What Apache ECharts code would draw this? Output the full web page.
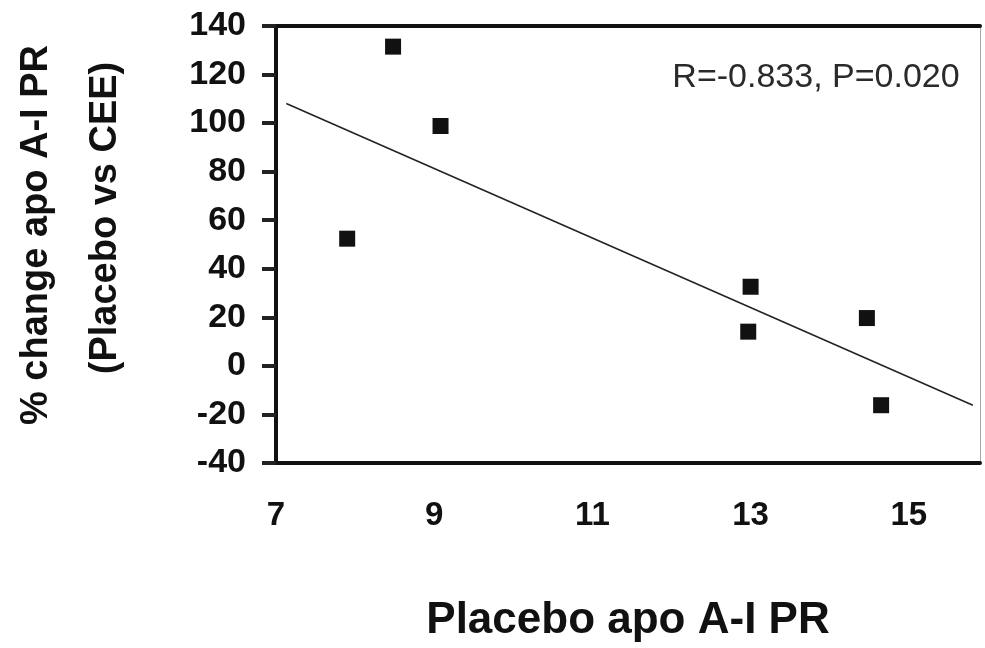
<!DOCTYPE html>
<html>
<head>
<meta charset="utf-8">
<script src="https://cdn.jsdelivr.net/npm/echarts@6/dist/echarts.min.js"></script>
<style>
	html, body { margin: 0; padding: 0; background: #fff; }
	#main { width: 985px; height: 648px; }
</style>
</head>
<body>
<div id="main"></div>
<script>
// scatter points
var placeboPR = [7.9, 8.48, 9.08, 13.0, 12.97, 14.47, 14.65];
var pctChange = [52.4, 131.5, 98.8, 32.6, 14.1, 19.7, -16.2];

// regression line end points
var trendX = [7.13, 15.81];
var trendY = [108.1, -16.2];

var xTicks = [7, 9, 11, 13, 15];
var statText = 'R=-0.833, P=0.020';

function createChart()
{
	var dom = document.getElementById("main");
	var myChart = echarts.init(dom);
	var option = null;

	var points = [];
	for (var i = 0; i < placeboPR.length; i++) {
		points.push([placeboPR[i], pctChange[i]]);
	}
	var line = [];
	for (var j = 0; j < trendX.length; j++) {
		line.push([trendX[j], trendY[j]]);
	}

	var font = "'Liberation Sans', Arial, sans-serif";

	option = {
		backgroundColor: '#fff',
		animation: false,
		title: {
			text: statText,
			left: 811,
			top: 56,
			textAlign: 'center',
			textStyle: {
				fontFamily: font,
				fontWeight: 'normal',
				fontSize: 34,
				color: '#2a2a2a'
			}
		},
		grid: {
			left: 276,
			top: 26,
			right: 5,
			bottom: 176,
			containLabel: false
		},
		xAxis: [
			{
				type: 'value',
				min: 7,
				max: 15.9,
				interval: 1,
				position: 'bottom',
				splitLine: { show: false },
				axisTick: { show: false },
				axisLine: { onZero: false, lineStyle: { color: '#111', width: 4 } },
				axisLabel: {
					margin: 36,
					showMaxLabel: false,
					fontFamily: font,
					fontWeight: 'bold',
					fontSize: 33,
					color: '#111',
					formatter: function (v) {
						return xTicks.indexOf(v) >= 0 ? String(v) : '';
					}
				},
				name: 'Placebo apo A-I PR',
				nameLocation: 'middle',
				nameGap: 136,
				nameTextStyle: {
					fontFamily: font,
					fontWeight: 'bold',
					fontSize: 44,
					color: '#111'
				}
			},
			{
				type: 'value',
				min: 7,
				max: 15.9,
				position: 'top',
				splitLine: { show: false },
				axisTick: { show: false },
				axisLabel: { show: false },
				axisLine: { onZero: false, lineStyle: { color: '#111', width: 4 } }
			}
		],
		yAxis: [
			{
				type: 'value',
				min: -40,
				max: 140,
				interval: 20,
				position: 'left',
				splitLine: { show: false },
				axisLine: { onZero: false, lineStyle: { color: '#111', width: 4 } },
				axisTick: {
					inside: false,
					length: 14,
					lineStyle: { color: '#222', width: 4 }
				},
				axisLabel: {
					margin: 30,
					fontFamily: font,
					fontWeight: 'bold',
					fontSize: 34,
					color: '#111'
				}
			},
			{
				type: 'value',
				min: -40,
				max: 140,
				position: 'right',
				splitLine: { show: false },
				axisTick: { show: false },
				axisLabel: { show: false },
				axisLine: { onZero: false, lineStyle: { color: '#aaa', width: 1 } }
			}
		],
		graphic: [
			{
				type: 'text',
				x: 37,
				y: 235,
				rotation: Math.PI / 2,
				style: {
					text: '% change apo A-I PR',
					fontFamily: font,
					fontWeight: 'bold',
					fontSize: 38,
					fill: '#111',
					align: 'center',
					verticalAlign: 'middle'
				}
			},
			{
				type: 'text',
				x: 106,
				y: 218,
				rotation: Math.PI / 2,
				style: {
					text: '(Placebo vs CEE)',
					fontFamily: font,
					fontWeight: 'bold',
					fontSize: 38,
					fill: '#111',
					align: 'center',
					verticalAlign: 'middle'
				}
			}
		],
		series: [
			{
				type: 'line',
				data: line,
				symbol: 'none',
				lineStyle: { color: '#222', width: 1.5 },
				z: 2
			},
			{
				type: 'scatter',
				data: points,
				symbol: 'rect',
				symbolSize: 16,
				itemStyle: { color: '#111', opacity: 1 },
				z: 3
			}
		]
	};

	if (option && typeof option === "object") {
		myChart.setOption(option, true);
	}
}

createChart();
</script>
</body>
</html>
